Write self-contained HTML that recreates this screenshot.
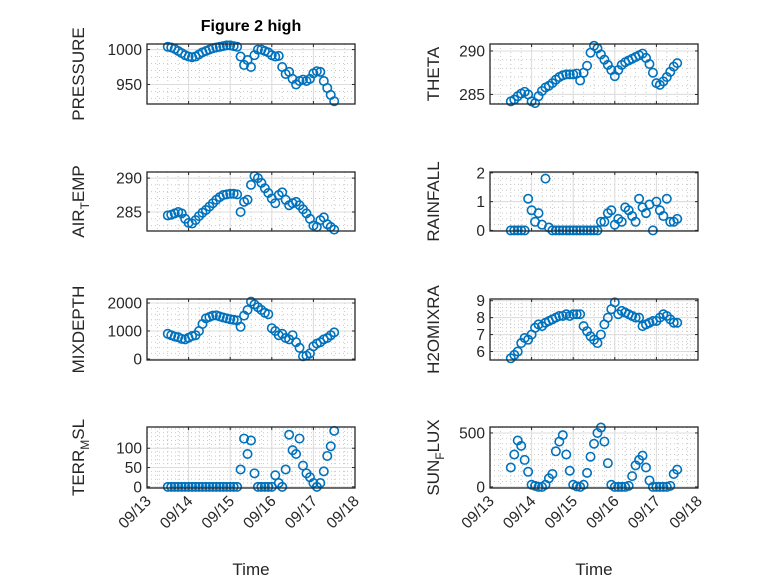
<!DOCTYPE html>
<html><head><meta charset="utf-8">
<style>
html,body{margin:0;padding:0;background:#fff;}
svg{display:block;font-family:"Liberation Sans",sans-serif;}
</style></head>
<body>
<svg id="fig" width="778" height="583" viewBox="0 0 778 583" xmlns="http://www.w3.org/2000/svg">
<rect x="0" y="0" width="778" height="583" fill="#fff"/>
<text x="251" y="31" text-anchor="middle" font-size="16" font-weight="bold" fill="#000">Figure 2 high</text>
</svg>
<script>
// time in days after 09/13 00:00
const times = [];
for (let i = 0; i < 49; i++) times.push(0.5 + i / 12);
const xTickLabels = ["09/13","09/14","09/15","09/16","09/17","09/18"];

const pressure = [1004,1003,1001,998,995,992,990,989,990,993,996,998,1000,1002,1003,1004,1005,1006,1006,1005,1004,990,978,985,975,992,1000,1000,998,996,992,990,991,975,965,968,958,950,955,957,955,958,966,969,968,955,945,935,926];
const airTemp = [284.5,284.6,284.8,285.0,284.8,284.0,283.4,283.3,283.8,284.4,284.9,285.3,285.8,286.3,286.8,287.2,287.5,287.6,287.7,287.7,287.6,285.0,286.5,286.8,289.0,290.3,290.0,289.3,288.5,287.8,287.0,286.3,287.5,287.9,286.8,286.0,286.3,286.5,286.0,285.4,284.8,284.0,283.0,282.8,283.8,284.2,283.2,282.8,282.4];
const mixDepth = [900,850,800,780,720,700,760,820,850,1000,1250,1450,1500,1550,1560,1520,1480,1450,1420,1400,1380,1150,1550,1750,2050,1950,1850,1750,1650,1600,1100,1000,850,900,750,700,850,600,400,100,120,200,450,550,600,700,750,850,950];
const terrMsl = [0,0,0,0,0,0,0,0,0,0,0,0,0,0,0,0,0,0,0,0,0,45,125,85,120,35,0,0,0,0,0,30,10,0,45,135,95,85,125,55,35,25,10,0,10,40,80,105,145];
const theta = [284.2,284.4,284.8,285.1,285.3,285.0,284.2,284.0,284.8,285.4,285.8,286.0,286.3,286.7,287.0,287.2,287.3,287.3,287.3,287.4,286.6,287.5,288.3,289.8,290.6,290.3,289.6,289.0,288.4,287.8,287.1,287.8,288.4,288.7,288.9,289.1,289.3,289.5,289.7,289.2,288.5,287.5,286.3,286.1,286.5,287.0,287.6,288.2,288.6];
const rainfall = [0,0,0,0,0,1.1,0.7,0.3,0.6,0.2,1.8,0.1,0,0,0,0,0,0,0,0,0,0,0,0,0,0,0.3,0.3,0.6,0.7,0.2,0.4,0.3,0.8,0.7,0.5,0.3,1.1,0.8,0.6,0.9,0,1.0,0.7,0.5,1.1,0.3,0.3,0.4];
const h2oMix = [5.6,5.8,6.0,6.5,6.8,6.7,7.0,7.4,7.6,7.5,7.7,7.8,7.9,8.0,8.1,8.1,8.2,8.1,8.2,8.2,8.2,7.5,7.2,6.9,6.7,6.5,7.0,7.6,8.0,8.5,8.9,8.2,8.4,8.3,8.2,8.1,8.0,8.0,7.5,7.6,7.7,7.8,7.8,8.0,8.2,8.1,7.9,7.7,7.7];
const sunFlux = [180,300,430,380,250,140,20,10,0,0,20,80,120,330,420,480,300,150,20,5,0,20,130,280,400,500,550,420,220,20,0,0,0,0,10,100,200,250,290,180,60,0,0,0,0,0,10,120,160];

const pressureTicks = [950,1000];
const airTempTicks = [285,290];
const mixDepthTicks = [0,1000,2000];
const terrTicks = [0,50,100];
const thetaTicks = [285,290];
const rainTicks = [0,1,2];
const h2oTicks = [6,7,8,9];
const sunTicks = [0,500];

const NS = "http://www.w3.org/2000/svg";
const svg = document.getElementById("fig");
function mk(tag, attrs, parent) {
  const e = document.createElementNS(NS, tag);
  for (const k in attrs) e.setAttribute(k, attrs[k]);
  (parent || svg).appendChild(e);
  return e;
}
const COLS = [[147,355],[490,698]];
const ROWS = [[44,104],[172,231],[299,360],[427,488]];
const panels = [
  {c:0,r:0,name:"pressure",vals:pressure,ticks:pressureTicks,lim:[922,1008],minor:10,label:"PRESSURE"},
  {c:0,r:1,name:"air-temp",vals:airTemp,ticks:airTempTicks,lim:[282.2,290.9],minor:1,label:["AIR","T","EMP"]},
  {c:0,r:2,name:"mixdepth",vals:mixDepth,ticks:mixDepthTicks,lim:[-36,2143],minor:200,label:"MIXDEPTH"},
  {c:0,r:3,name:"terr-msl",vals:terrMsl,ticks:terrTicks,lim:[-3,155],minor:10,label:["TERR","M","SL"]},
  {c:1,r:0,name:"theta",vals:theta,ticks:thetaTicks,lim:[283.9,290.8],minor:1,label:"THETA"},
  {c:1,r:1,name:"rainfall",vals:rainfall,ticks:rainTicks,lim:[-0.02,2.03],minor:0.2,label:"RAINFALL"},
  {c:1,r:2,name:"h2omixra",vals:h2oMix,ticks:h2oTicks,lim:[5.5,9.1],minor:0.2,label:"H2OMIXRA"},
  {c:1,r:3,name:"sun-flux",vals:sunFlux,ticks:sunTicks,lim:[-10,555],minor:50,label:["SUN","F","LUX"]}
];
panels.forEach(p => {
  const [x0,x1] = COLS[p.c], [y0,y1] = ROWS[p.r];
  const xs = d => x0 + (d / 5) * (x1 - x0);
  const ys = v => y1 - (v - p.lim[0]) / (p.lim[1] - p.lim[0]) * (y1 - y0);
  const g = mk("g", {});
  
  
  for (let d = 0; d <= 5.001; d += 0.25) {
    const x = xs(d);
    mk("line",{x1:x,x2:x,y1:y0,y2:y1,stroke:"#c8c8c8","stroke-width":1,"stroke-dasharray":"1,3"},g);
  }
  const mstart = Math.ceil(p.lim[0] / p.minor) * p.minor;
  for (let v = mstart; v <= p.lim[1]; v += p.minor) {
    const y = ys(v);
    mk("line",{x1:x0,x2:x1,y1:y,y2:y,stroke:"#c8c8c8","stroke-width":1,"stroke-dasharray":"1,3"},g);
  }
  for (let d = 1; d < 5; d++) {
    const x = xs(d);
    mk("line",{x1:x,x2:x,y1:y0,y2:y1,stroke:"#dcdcdc","stroke-width":1},g);
  }
  p.ticks.forEach(t => {
    const y = ys(t);
    mk("line",{x1:x0,x2:x1,y1:y,y2:y,stroke:"#dcdcdc","stroke-width":1},g);
    mk("line",{x1:x0,x2:x0+3,y1:y,y2:y,stroke:"#262626"},g);
    mk("line",{x1:x1,x2:x1-3,y1:y,y2:y,stroke:"#262626"},g);
    const tl = mk("text",{x:x0-5,y:y+5.5,"text-anchor":"end","font-size":15.5,fill:"#262626"},g);
    tl.textContent = String(t);
    
    
  });
  for (let d = 0; d <= 5; d++) {
    const x = xs(d);
    mk("line",{x1:x,x2:x,y1:y1,y2:y1-3,stroke:"#262626"},g);
    mk("line",{x1:x,x2:x,y1:y0,y2:y0+3,stroke:"#262626"},g);
    if (p.r === 3) {
      const tl = mk("text",{x:x+5,y:y1+14,"text-anchor":"end","font-size":15.5,fill:"#262626",transform:`rotate(-45 ${x+5} ${y1+14})`},g);
      tl.textContent = xTickLabels[d];
      
      
    }
  }
  p.vals.forEach((v, i) => {
    const c = mk("circle",{cx:xs(times[i]),cy:ys(v),r:4.2,fill:"none",stroke:"#0072BD","stroke-width":1.6},g);
    
    
  });
  mk("rect",{x:x0,y:y0,width:x1-x0,height:y1-y0,fill:"none",stroke:"#262626","stroke-width":1.3},g);
  const lx = p.c === 0 ? 84 : 439;
  const ly = (y0 + y1) / 2;
  const t = mk("text",{x:lx,y:ly,"text-anchor":"middle","font-size":17,fill:"#262626",transform:`rotate(-90 ${lx} ${ly})`},g);
  if (Array.isArray(p.label)) {
    t.appendChild(document.createTextNode(p.label[0]));
    const s = mk("tspan",{dy:5,"font-size":12},t);
    s.textContent = p.label[1];
    const s2 = mk("tspan",{dy:-5},t);
    s2.textContent = p.label[2];
  } else t.textContent = p.label;
  
  
});
[251, 594].forEach(cx => {
  const t = mk("text",{x:cx,y:575,"text-anchor":"middle","font-size":17,fill:"#262626"});
  t.textContent = "Time";
  
  
});
</script>
</body></html>
